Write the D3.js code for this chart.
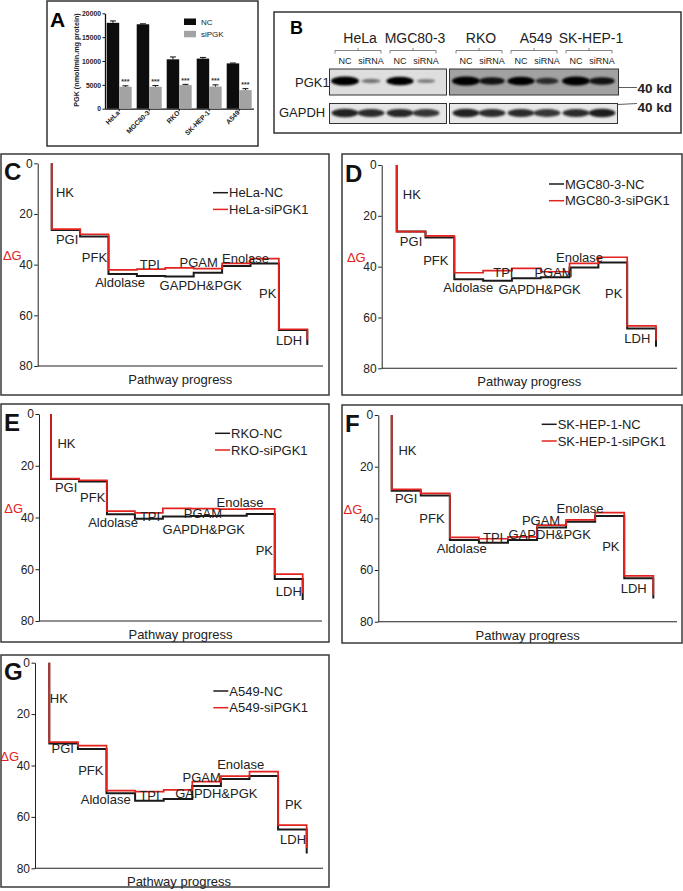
<!DOCTYPE html>
<html><head><meta charset="utf-8">
<script src="https://cdn.jsdelivr.net/npm/d3@7"></script>
<style>
body{margin:0;background:#fff}
svg{display:block}
text{font-family:'Liberation Sans',Arial,sans-serif}
</style>
</head><body>
<svg id="fig" width="683" height="891"></svg>
<script>
// ---------------- DATA ----------------
// Panel A: PGK activity
const cellLines = ["HeLa","MGC80-3","RKO","SK-HEP-1","A549"];
const pgkNC     = [18000,17700,10350,10500,9500];
const pgkNCerr  = [400,100,500,250,80];
const pgkSi     = [4600,4600,4950,4650,3900];
const pgkSiErr  = [200,250,150,350,300];
const pgkTicks  = [0,5000,10000,15000,20000];
const pgkSeries = ["NC","siPGK"];

// Panel B: western blot
const blotLeft   = ["HeLa","MGC80-3"];
const blotRight  = ["RKO","A549","SK-HEP-1"];
const blotLanes  = ["NC","siRNA"];
const pgk1Band   = [1.0,0.28,0.95,0.22, 1.0,0.8,0.95,0.6,1.0,0.8];
const gapdhBand  = [0.95,0.9,0.92,0.85, 0.95,0.9,0.9,0.85,0.9,0.97];

// Panels C-G: cumulative Gibbs free energy
const steps   = ["HK","PGI","PFK","Aldolase","TPI","GAPDH&PGK","PGAM","Enolase","PK","LDH"];
const dGTicks = [0,20,40,60,80];
const helaNC = [26.3,28.9,43.7,44.5,44.7,43.2,40.5,39.5,65.8,71.7];
const helaSi = [26.0,28.0,42.1,41.8,41.3,41.6,39.5,37.6,65.5,69.8];
const mgcNC  = [26.2,28.5,45.0,45.5,44.6,44.2,40.3,38.4,64.3,71.5];
const mgcSi  = [26.2,27.9,42.4,41.6,40.7,42.0,38.7,36.3,63.3,69.1];
const rkoNC  = [25.1,26.1,38.7,40.5,39.6,39.4,39.3,38.6,63.8,71.9];
const rkoSi  = [25.0,25.6,37.5,38.2,36.5,36.6,36.8,36.7,61.9,69.3];
const skNC   = [29.3,31.2,48.4,49.4,48.4,43.5,41.3,39.1,63.2,71.0];
const skSi   = [28.8,30.3,47.4,47.9,47.2,42.6,40.6,37.8,62.3,69.7];
const a549NC = [31.4,33.6,50.8,53.7,53.0,48.0,45.3,44.1,64.9,74.2];
const a549Si = [30.9,32.3,49.8,50.2,49.5,46.3,44.1,42.4,63.2,72.2];

// ---------------- DRAW ----------------
const svg = d3.select("#fig");
svg.append("rect").attr("width",683).attr("height",891).attr("fill","#fff");
const defs = svg.append("defs");
defs.append("filter").attr("id","blur").attr("x","-50%").attr("y","-100%").attr("width","200%").attr("height","300%")
  .append("feGaussianBlur").attr("stdDeviation",1.3);

// ===== Panel A =====
(function(){
  const g = svg.append("g");
  g.append("rect").attr("x",47).attr("y",1).attr("width",211).attr("height",145)
    .attr("fill","none").attr("stroke","#333").attr("stroke-width",1.5);
  g.append("text").attr("x",50).attr("y",27).attr("font-size",21).attr("font-weight","bold").text("A");

  const y = d3.scaleLinear().domain([0,20000]).range([108.7,13.3]);
  const x = d3.scaleBand().domain(cellLines).range([105,253.4]).paddingInner(0.167).paddingOuter(0.057);
  const xs = d3.scaleBand().domain(pgkSeries).range([0,x.bandwidth()]);
  const colors = {NC:"#0d0d0d", siPGK:"#a3a3a3"};

  const yAx = g.append("g").attr("transform","translate(105,0)")
    .call(d3.axisLeft(y).tickValues(pgkTicks).tickSize(2.5).tickPadding(1.5).tickSizeOuter(0).tickFormat(d3.format("d")));
  yAx.selectAll("text").attr("font-size",6.8).attr("font-weight","bold").attr("fill","#222");
  yAx.select(".domain").attr("stroke","#111").attr("stroke-width",1.3);
  yAx.selectAll(".tick line").attr("stroke","#111").attr("stroke-width",1);

  const xAx = g.append("g").attr("transform",`translate(0,${y(0)})`)
    .call(d3.axisBottom(x).tickSize(2.5).tickSizeOuter(0).tickFormat(""));
  xAx.select(".domain").attr("stroke","#111").attr("stroke-width",1.3);
  xAx.selectAll(".tick line").attr("stroke","#111");

  cellLines.forEach((c,i)=>{
    const vals = [[pgkSeries[0],pgkNC[i],pgkNCerr[i]],[pgkSeries[1],pgkSi[i],pgkSiErr[i]]];
    vals.forEach(([s,v,e])=>{
      const bx = x(c)+xs(s), bw = xs.bandwidth(), cx = bx+bw/2;
      g.append("rect").attr("x",bx).attr("y",y(v)).attr("width",bw).attr("height",y(0)-y(v)).attr("fill",colors[s]);
      g.append("line").attr("x1",cx).attr("x2",cx).attr("y1",y(v)).attr("y2",y(v+e)).attr("stroke","#111").attr("stroke-width",1);
      g.append("line").attr("x1",cx-3).attr("x2",cx+3).attr("y1",y(v+e)).attr("y2",y(v+e)).attr("stroke","#111").attr("stroke-width",1);
      if(s==="siPGK"){
        g.append("text").attr("x",cx).attr("y",y(v+e)-1.5).attr("text-anchor","middle")
          .attr("font-size",7).attr("font-weight","bold").attr("fill","#333").text("***");
      }
    });
    const cx = x(c)+x.bandwidth()/2;
    g.append("text").attr("transform",`translate(${cx+1},${y(0)+4.5}) rotate(-45)`)
      .attr("text-anchor","end").attr("font-size",6.8).attr("font-weight","bold").attr("fill","#222").text(c);
  });

  g.append("text").attr("transform","translate(79,60) rotate(-90)").attr("text-anchor","middle")
    .attr("font-size",7.2).attr("font-weight","bold").attr("fill","#222").text("PGK (nmol/min.mg protein)");

  pgkSeries.forEach((s,i)=>{
    g.append("rect").attr("x",184).attr("y",18.5+i*12.3).attr("width",12).attr("height",6.5).attr("fill",colors[s]);
    g.append("text").attr("x",201).attr("y",24.8+i*12.3).attr("font-size",8).attr("fill","#222").text(s);
  });
})();

// ===== Panel B =====
(function(){
  const g = svg.append("g");
  g.append("rect").attr("x",274).attr("y",12).attr("width",407).attr("height",121)
    .attr("fill","none").attr("stroke","#333").attr("stroke-width",1.5);
  g.append("text").attr("x",290).attr("y",33.5).attr("font-size",18).attr("font-weight","bold").text("B");

  const gl = d3.scalePoint().domain(blotLeft).range([358,413]);
  const gr = d3.scalePoint().domain(blotRight).range([479,589]);
  const lane = d3.scalePoint().domain(blotLanes).range([-13,13]);
  const groups = blotLeft.map(c=>[c,gl(c)]).concat(blotRight.map(c=>[c,gr(c)]));

  g.append("rect").attr("x",329.5).attr("y",69).attr("width",117).attr("height",26).attr("fill","#dedede").attr("stroke","#333").attr("stroke-width",1);
  g.append("rect").attr("x",449.5).attr("y",69).attr("width",169).attr("height",26).attr("fill","#a2a2a2").attr("stroke","#333").attr("stroke-width",1);
  g.append("rect").attr("x",329.5).attr("y",103.5).attr("width",117).attr("height",20).attr("fill","#e6e6e6").attr("stroke","#333").attr("stroke-width",1);
  g.append("rect").attr("x",449.5).attr("y",103.5).attr("width",168).attr("height",20).attr("fill","#e8e8e8").attr("stroke","#333").attr("stroke-width",1);

  groups.forEach(([c,cx],gi)=>{
    g.append("text").attr("x",cx+2).attr("y",43).attr("text-anchor","middle").attr("font-size",14).attr("fill","#222").text(c);
    g.append("path").attr("d",`M${cx-23},53.5 V50.5 H${cx+23} V53.5 M${cx},50.5 V48`)
      .attr("fill","none").attr("stroke","#666").attr("stroke-width",0.8);
    blotLanes.forEach((l,li)=>{
      const lx = cx+lane(l);
      g.append("text").attr("x",lx).attr("y",63.5).attr("text-anchor","middle").attr("font-size",9).attr("fill","#222").text(l);
      const k = gi*2+li;
      const p = pgk1Band[k];
      g.append("ellipse").attr("cx",lx).attr("cy",81).attr("rx",8+6*p).attr("ry",1.3+3.2*p)
        .attr("fill","#000").attr("opacity",Math.min(1,0.25+0.8*p)).attr("filter","url(#blur)");
      const q = gapdhBand[k];
      g.append("ellipse").attr("cx",lx).attr("cy",113).attr("rx",13.5).attr("ry",1.5+2.8*q)
        .attr("fill","#000").attr("opacity",0.9*q).attr("filter","url(#blur)");
    });
  });

  g.append("text").attr("x",295).attr("y",86.5).attr("font-size",13).attr("fill","#222").text("PGK1");
  g.append("text").attr("x",279).attr("y",117).attr("font-size",13).attr("fill","#222").text("GAPDH");
  g.append("line").attr("x1",618.5).attr("x2",637).attr("y1",87.5).attr("y2",87.5).attr("stroke","#333").attr("stroke-width",0.8);
  g.append("line").attr("x1",617.5).attr("x2",637).attr("y1",104.5).attr("y2",103.5).attr("stroke","#333").attr("stroke-width",0.8);
  g.append("text").attr("x",637.5).attr("y",93).attr("font-size",13.5).attr("font-weight","bold").attr("fill","#222").text("40 kd");
  g.append("text").attr("x",637.5).attr("y",111.5).attr("font-size",13.5).attr("font-weight","bold").attr("fill","#222").text("40 kd");
})();

// ===== Panels C-G =====
const RED = "#e2231f", BLK = "#1a1a1a";
const labelsC = [[0.15,13.2],[0.15,31.8],[1.06,38.8],[1.53,49],[3.1,41.7],[3.8,50],[4.5,40.8],[6.0,39.5],[7.3,53],[7.9,71.7]];
const labelsD = [[0.21,13.5],[0.11,31.9],[0.92,39.3],[1.62,49.8],[3.35,44.2],[3.53,50.6],[4.78,43.9],[5.53,38],[7.23,52.5],[7.9,70.2]];
const labelsE = [[0.23,13.3],[0.14,30],[1.04,33.9],[1.33,43.8],[3.18,41.2],[3.99,46.4],[4.75,40],[5.92,35.8],[7.32,54.5],[8.04,70.2]];
const labelsF = [[0.23,15.5],[0.11,33.9],[0.95,41.7],[1.55,53.3],[3.14,49],[4.02,48.1],[4.48,42.6],[5.67,38.1],[7.24,52.5],[7.88,69]];
const labelsG = [[0.02,15.8],[0.08,35.3],[1.01,43.7],[1.1,55],[3.15,53.4],[4.4,52.8],[4.66,46.3],[5.87,41.5],[8.24,57],[8.07,70.7]];

const panels = [
  {letter:"C", box:[1,154,328,241], axisX:37.7, y0:163.3, y80:366, x0:51.7, x9:307.3, axisEnd:323, nc:helaNC, si:helaSi, names:["HeLa-NC","HeLa-siPGK1"], leg:[213,192.7], labels:labelsC},
  {letter:"D", box:[342,154,340,241], axisX:381.7, y0:165, y80:368.3, x0:396.7, x9:656, axisEnd:677, nc:mgcNC, si:mgcSi, names:["MGC80-3-NC","MGC80-3-siPGK1"], leg:[549,184], labels:labelsD},
  {letter:"E", box:[1,404,328,238], axisX:39, y0:414, y80:621, x0:51, x9:302.7, axisEnd:322, nc:rkoNC, si:rkoSi, names:["RKO-NC","RKO-siPGK1"], leg:[215,433.3], labels:labelsE},
  {letter:"F", box:[342,405,340,238], axisX:378.3, y0:415, y80:621.7, x0:391.7, x9:653.3, axisEnd:677, nc:skNC, si:skSi, names:["SK-HEP-1-NC","SK-HEP-1-siPGK1"], leg:[541.7,424.3], labels:labelsF},
  {letter:"G", box:[1,655,328,232], axisX:35, y0:662.7, y80:868.3, x0:49.3, x9:306.7, axisEnd:323, nc:a549NC, si:a549Si, names:["A549-NC","A549-siPGK1"], leg:[213.3,691], labels:labelsG}
];

panels.forEach(p=>{
  const g = svg.append("g");
  const [bx,by,bw,bh] = p.box;
  g.append("rect").attr("x",bx).attr("y",by).attr("width",bw).attr("height",bh)
    .attr("fill","none").attr("stroke","#3a3a3a").attr("stroke-width",1.5);

  const y = d3.scaleLinear().domain([0,80]).range([p.y0,p.y80]);
  const x = d3.scaleLinear().domain([0,steps.length-1]).range([p.x0,p.x9]);

  const yAx = g.append("g").attr("transform",`translate(${p.axisX},0)`)
    .call(d3.axisLeft(y).tickValues(dGTicks).tickSize(3.5).tickPadding(1.5).tickSizeOuter(0));
  yAx.selectAll("text").attr("font-size",12).attr("fill","#222");
  yAx.select(".domain").attr("stroke","#222").attr("stroke-width",1);
  yAx.selectAll(".tick line").attr("stroke","#222");
  g.append("line").attr("x1",p.axisX).attr("x2",p.axisEnd).attr("y1",y(80)).attr("y2",y(80)).attr("stroke","#222").attr("stroke-width",1.1);

  g.append("text").attr("x",bx+3).attr("y",p.y0+17).attr("font-size",24).attr("font-weight","bold").attr("fill","#111").text(p.letter);
  g.append("text").attr("x",p.axisX-16).attr("y",y(36.5)+4.5).attr("text-anchor","end").attr("font-size",13).attr("fill",RED).text("\u0394G");
  g.append("text").attr("x",(p.axisX+p.axisEnd)/2).attr("y",y(80)+18).attr("text-anchor","middle").attr("font-size",13).attr("fill","#222").text("Pathway progress");

  const line = d3.line().x(d=>x(d[0])).y(d=>y(d[1])).curve(d3.curveStepAfter);
  const pts = v => [[0,0]].concat(v.map((d,i)=>[i,d]));
  g.append("path").attr("d",line(pts(p.nc))).attr("fill","none").attr("stroke",BLK).attr("stroke-width",2);
  g.append("path").attr("d",line(pts(p.si))).attr("fill","none").attr("stroke",RED).attr("stroke-width",1.7);

  steps.forEach((s,i)=>{
    const [ix,iv] = p.labels[i];
    g.append("text").attr("x",x(ix)).attr("y",y(iv)).attr("font-size",13).attr("fill","#222").text(s);
  });

  [[p.names[0],BLK],[p.names[1],RED]].forEach(([n,c],i)=>{
    const ly = p.leg[1]+i*16.7;
    g.append("line").attr("x1",p.leg[0]).attr("x2",p.leg[0]+15).attr("y1",ly).attr("y2",ly).attr("stroke",c).attr("stroke-width",1.5);
    g.append("text").attr("x",p.leg[0]+16).attr("y",ly+4.6).attr("font-size",13).attr("fill","#222").text(n);
  });
});
</script>
</body></html>
